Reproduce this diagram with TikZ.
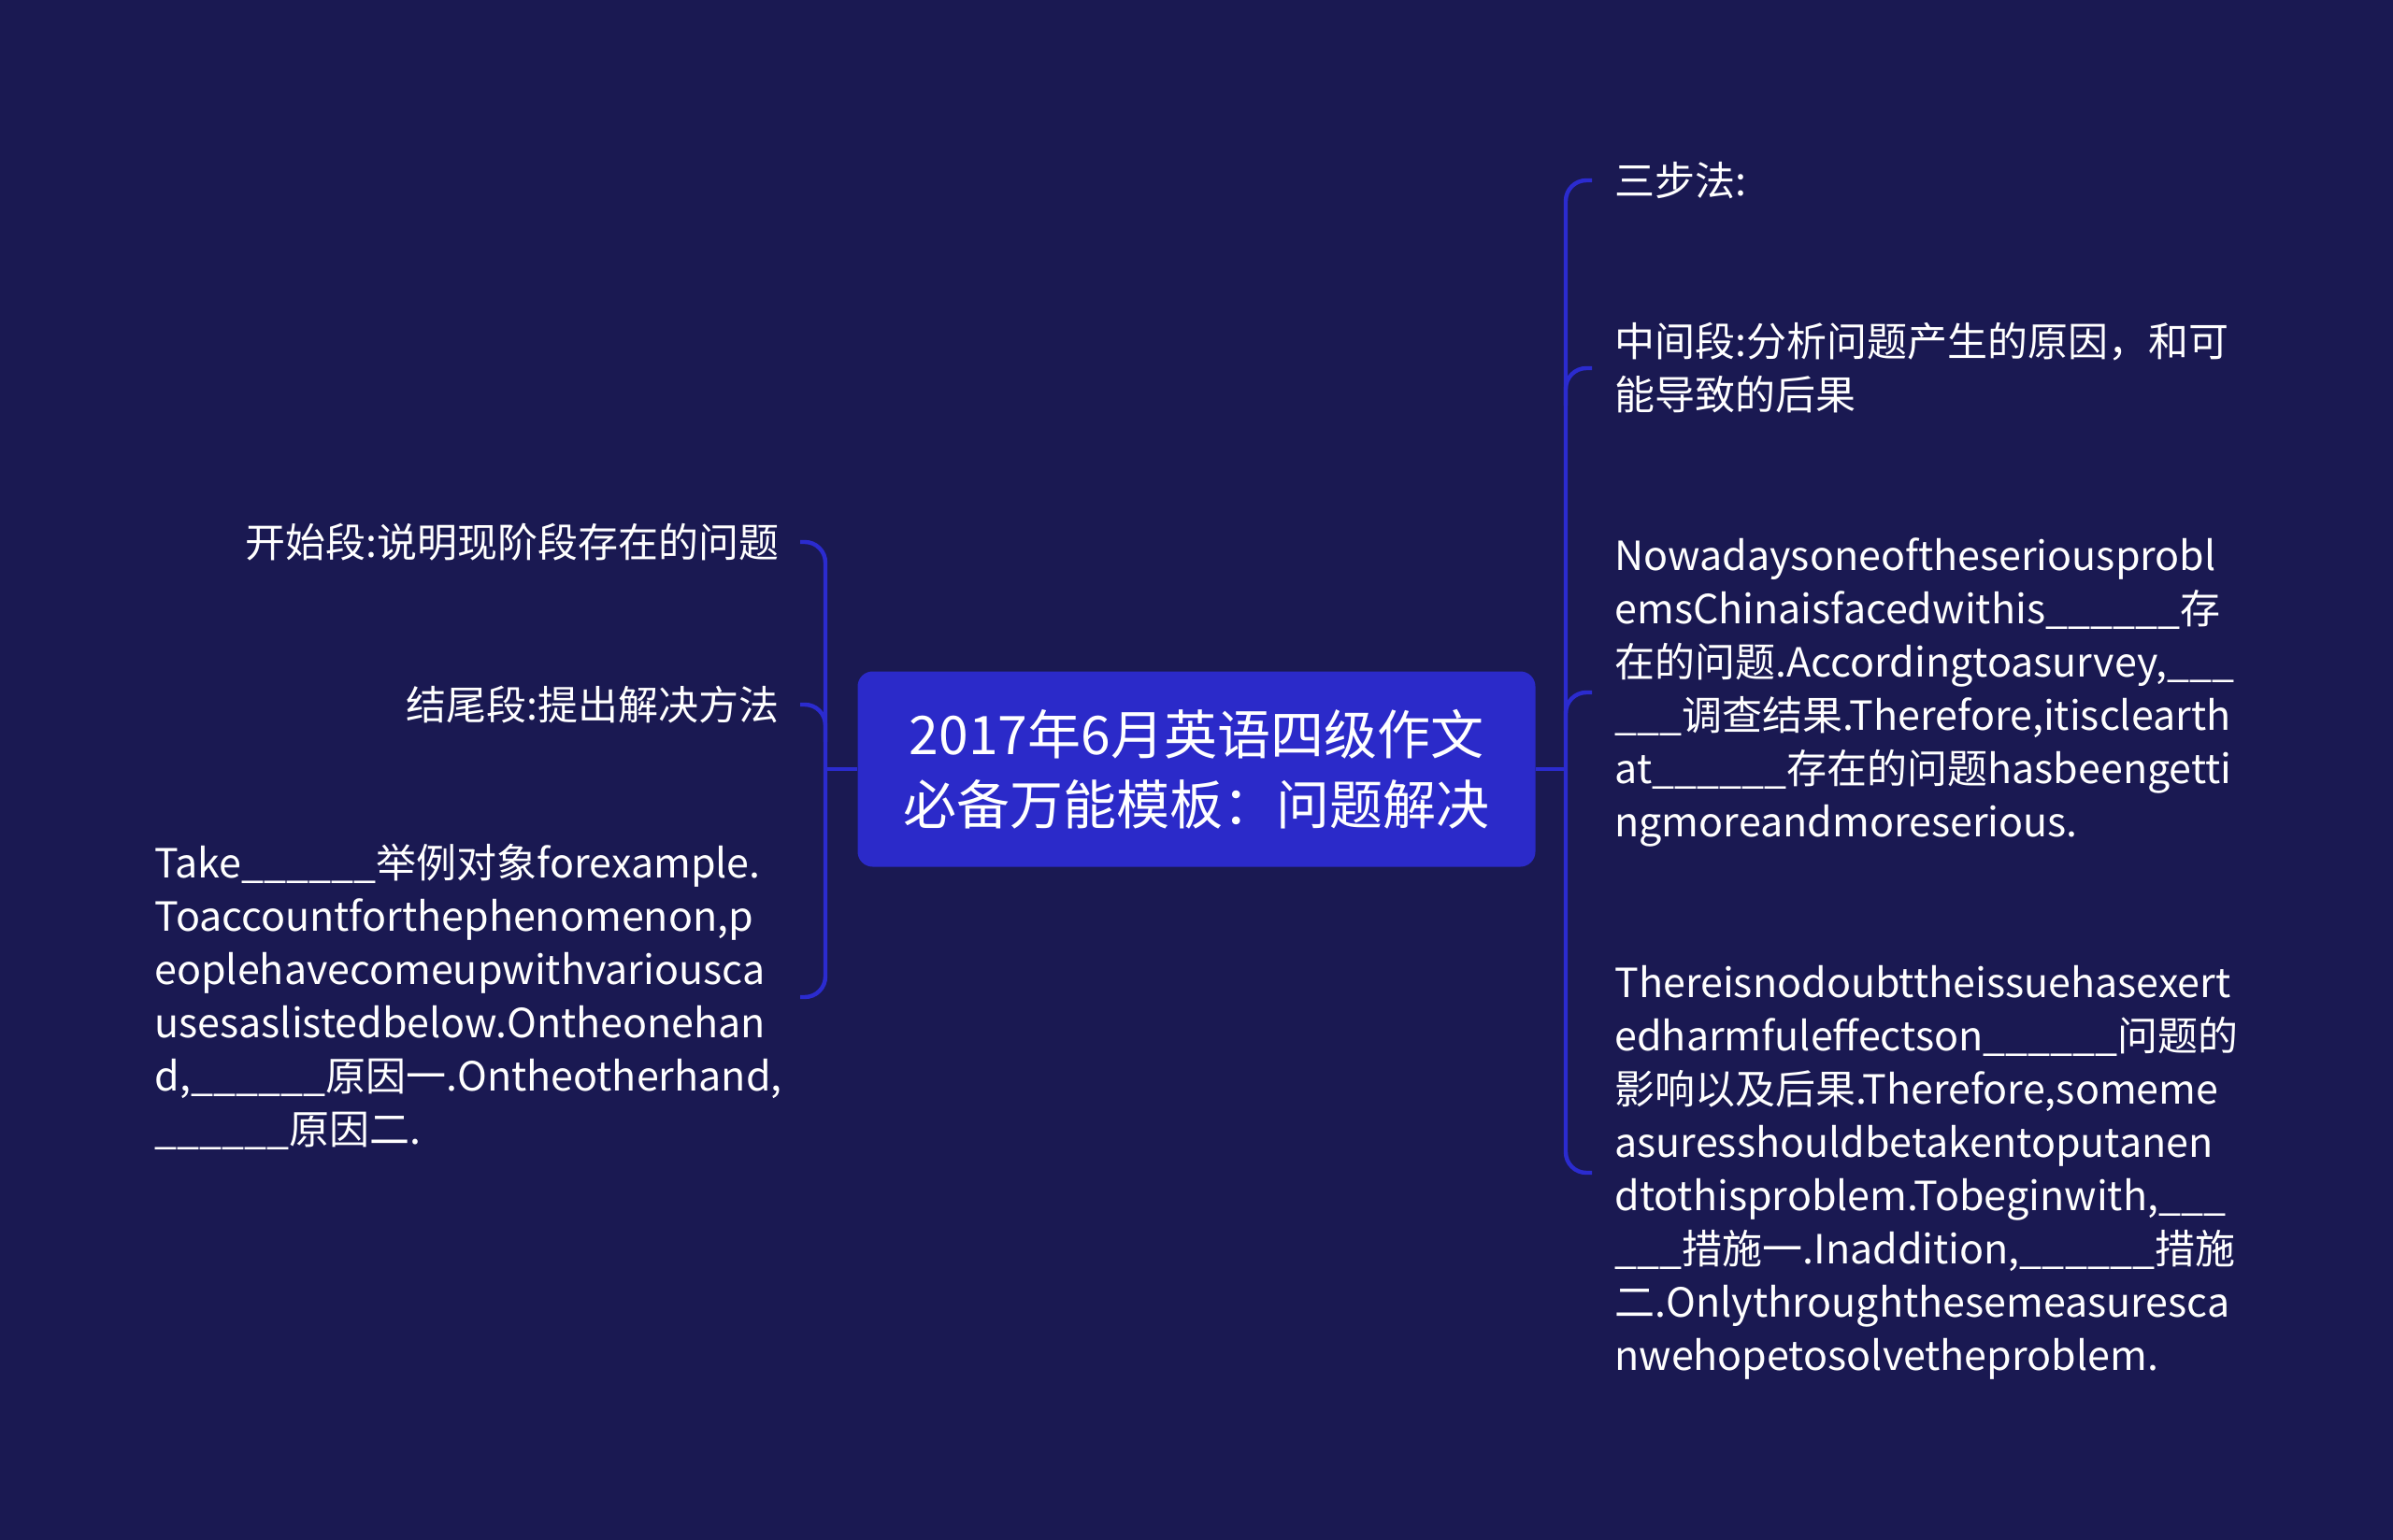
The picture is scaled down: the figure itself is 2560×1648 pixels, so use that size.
\documentclass[tikz,border=0pt]{standalone}
\usepackage{fontspec}
\setmainfont{Noto Sans CJK SC}
\usetikzlibrary{positioning, calc}

\definecolor{bgnavy}{HTML}{1A1952}
\definecolor{hubblue}{HTML}{2B2AC9}
\definecolor{linkblue}{HTML}{2B2BCF}

\tikzset{
	hub/.style = {fill=hubblue, rounded corners=8pt, minimum width=362.5pt, minimum height=104.5pt,
		text=white, align=center, font=\fontsize{28.5}{37.5}\selectfont},
	leaf/.style = {text=white, inner sep=0pt, font=\fontsize{21.5}{28.5}\selectfont},
	link/.style = {draw=linkblue, line width=2.2pt, rounded corners=11pt},
}

\begin{document}
\begin{tikzpicture}[x=0.5pt, y=-0.5pt]
	\fill [bgnavy] (0,0) rectangle (2560,1648);
	\useasboundingbox (0,0) rectangle (2560,1648);
	
	\node [hub] (hub) at (1280,823) {2017年6月英语四级作文\\必备万能模板：问题解决};
	
	% right branch
	\coordinate (rt) at (1675,823);
	\coordinate (rx) at (1703,823);
	\node [leaf, anchor=west, align=left] (steps) at (1727,193) {三步法:};
	\node [leaf, anchor=west, align=left] (mid) at (1727,394) {中间段:分析问题产生的原因，和可\\能导致的后果};
	\node [leaf, anchor=west, align=left] (nowa) at (1727,741) {Nowadaysoneoftheseriousprobl\\emsChinaisfacedwithis\_\_\_\_\_\_存\\在的问题.Accordingtoasurvey,\_\_\_\\\_\_\_调查结果.Therefore,itisclearth\\at\_\_\_\_\_\_存在的问题hasbeengetti\\ngmoreandmoreserious.};
	\node [leaf, anchor=west, align=left] (there) at (1727,1255) {Thereisnodoubttheissuehasexert\\edharmfuleffectson\_\_\_\_\_\_问题的\\影响以及后果.Therefore,someme\\asuresshouldbetakentoputanen\\dtothisproblem.Tobeginwith,\_\_\_\\\_\_\_措施一.Inaddition,\_\_\_\_\_\_措施\\二.Onlythroughthesemeasuresca\\nwehopetosolvetheproblem.};
	
	\draw [link] (hub.east) -- (rt);
	\draw [link] (rx |- steps.west) -- (rt |- steps.west) -- (rt |- there.west) -- (rx |- there.west);
	\draw [link] ($(rt |- mid.west)+(0,40)$) -- (rt |- mid.west) -- (rx |- mid.west);
	\draw [link] ($(rt |- nowa.west)+(0,40)$) -- (rt |- nowa.west) -- (rx |- nowa.west);
	
	% left branch
	\coordinate (lt) at (883,823);
	\coordinate (lx) at (856,823);
	\node [leaf, anchor=east, align=right] (open) at (834,580) {开始段:说明现阶段存在的问题};
	\node [leaf, anchor=east, align=right] (close) at (834,754) {结尾段:提出解决方法};
	\node [leaf, anchor=west, align=left] (take) at (165,1067) {Take\_\_\_\_\_\_举例对象forexample.\\Toaccountforthephenomenon,p\\eoplehavecomeupwithvariousca\\usesaslistedbelow.Ontheonehan\\d,\_\_\_\_\_\_原因一.Ontheotherhand,\\\_\_\_\_\_\_原因二.};
	
	\draw [link] (hub.west) -- (lt);
	\draw [link] (lx |- open.east) -- (lt |- open.east) -- (lt |- take.west) -- (lx |- take.west);
	\draw [link] ($(lt |- close.east)+(0,40)$) -- (lt |- close.east) -- (lx |- close.east);
\end{tikzpicture}
\end{document}
